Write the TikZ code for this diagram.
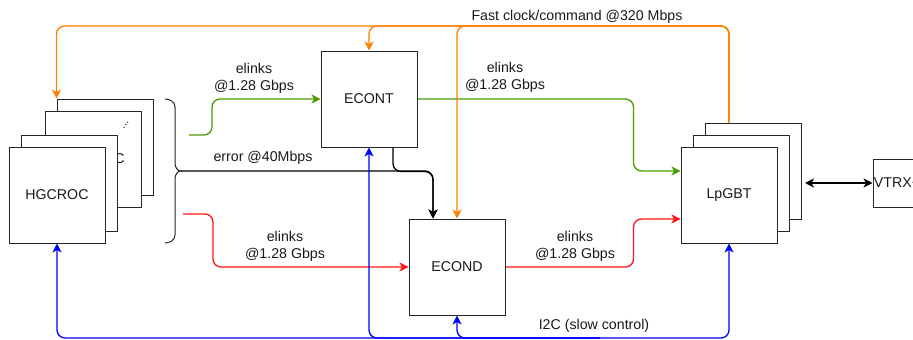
\documentclass[tikz,border=0pt]{standalone}
\usepackage{fontspec}
\setmainfont{Liberation Sans}
\usetikzlibrary{arrows.meta}
\definecolor{cgreen}{RGB}{77,153,0}
\definecolor{cred}{RGB}{255,20,20}
\definecolor{corange}{RGB}{255,128,0}
\definecolor{cblue}{RGB}{0,0,255}
\begin{document}
\begin{tikzpicture}[x=1pt,y=-1pt,
  every node/.style={font=\fontsize{14.2}{17}\selectfont, inner sep=0pt, text=black!90},
  box/.style={draw=black!85, line width=1pt, fill=white, minimum width=96pt, minimum height=96pt, inner sep=0pt},
  conn/.style={line width=1.3pt, rounded corners=8pt, -{Stealth[length=9pt,width=9pt,inset=2.5pt]}},
  lbl/.style={align=center}]
\useasboundingbox (0,0) rectangle (913,340);
% HGCROC stack
\node[box] (H4) at (105,147) {};
\node[box] (H3) at (93,159) {HGCROC};
\node[rotate=55, font=\fontsize{11}{11}\selectfont] (dots) at (126,125) {...};
\node[box] (H2) at (69,183) {};
\node[box] (H1) at (57,195) {HGCROC};
% brace
\coordinate (btip) at (181,171);
\draw[line width=1pt, black!85] (165,99) to[out=0,in=90] (175,107) -- (175,163) to[out=-90,in=180] (btip) to[out=180,in=90] (175,179) -- (175,235) to[out=-90,in=0] (165,243);
% ECONT / ECOND
\node[box] (ECONT) at (369,99) {ECONT};
\node[box] (ECOND) at (457,267) {ECOND};
% LpGBT stack
\node[box] (L3) at (753,171) {};
\node[box] (L2) at (741,183) {};
\node[box] (L1) at (729,195) {LpGBT};
% VTRX
\node[box, minimum width=48pt, minimum height=48pt] (vtrx) at (897,183) {VTRX+};
\coordinate (lp) at (805,183);
\draw[line width=1.3pt, {Stealth[length=9pt,width=9pt,inset=2.5pt]}-{Stealth[length=9pt,width=9pt,inset=2.5pt]}] (lp) -- (vtrx.west);
% green
\coordinate (g0) at (189,135);
\draw[conn, cgreen] (g0) -- ++(23,0) |- (ECONT.west);
\draw[conn, cgreen] (ECONT.east) -- ++(216,0) |- ([yshift=24pt]L1.west);
% red
\coordinate (r0) at (183,214);
\draw[conn, cred] (r0) -- ++(30,0) |- (ECOND.west);
\draw[conn, cred] (ECOND.east) -- ++(128,0) |- ([yshift=-24pt]L1.west);
% black error
\draw[conn, black] (btip) -| ([xshift=-24pt]ECOND.north);
\draw[conn, black] ([xshift=24pt]ECONT.south) -- ++(0,24) -| ([xshift=-24pt]ECOND.north);
% orange
\coordinate (ftop) at (729,26);
\draw[conn, corange] (L1 |- L3.north) -- (ftop) -| (H4.north west);
\draw[conn, corange] (L1 |- L3.north) -- (ftop) -| (ECONT.north);
\draw[conn, corange] (L1 |- L3.north) -- (ftop) -| (ECOND.north);
% blue
\coordinate (i2c) at (600,338);
\draw[conn, cblue] (i2c) -| (H1.south);
\draw[conn, cblue] (i2c) -| (ECONT.south);
\draw[conn, cblue] (i2c) -| (ECOND.south);
\draw[conn, cblue] (i2c) -| (L1.south);
% labels
\node[lbl] (lg1) at (254,78) {elinks\\@1.28 Gbps};
\node (lerr) at (263,158) {error @40Mbps};
\node[lbl] (lr1) at (285,246) {elinks\\@1.28 Gbps};
\node[lbl] (lg2) at (505,77) {elinks\\@1.28 Gbps};
\node[lbl] (lr2) at (575,246) {elinks\\@1.28 Gbps};
\node (lfc) at (577,17) {Fast clock/command @320 Mbps};
\node (li2c) at (594,326) {I2C (slow control)};
\end{tikzpicture}
\end{document}
